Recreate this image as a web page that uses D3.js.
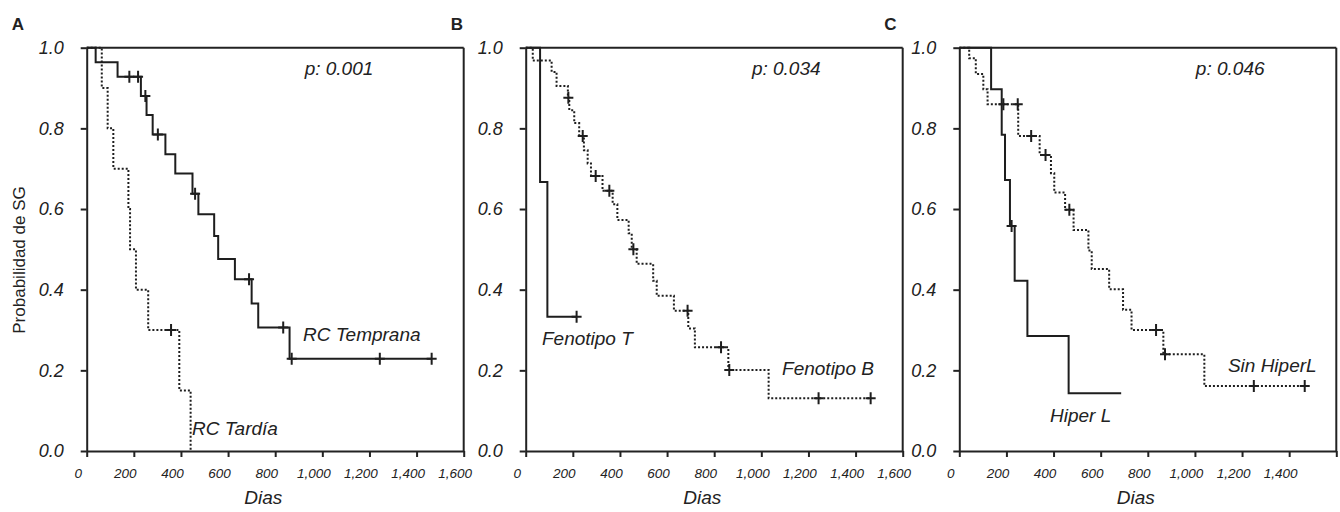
<!DOCTYPE html>
<html>
<head>
<meta charset="utf-8">
<title>Curvas de supervivencia</title>
<script src="https://cdn.jsdelivr.net/npm/d3@7"></script>
<style>
	body { margin: 0; background: #fff; }
	svg { display: block; font-family: "Liberation Sans", Arial, sans-serif; }
	.tick line, .domain { stroke: #222; stroke-width: 2; }
	.xax text { font-style: italic; font-size: 13.5px; fill: #222; }
	.yax text { font-style: italic; font-size: 18px; fill: #222; }
	.lbl { font-style: italic; font-size: 19px; fill: #222; }
</style>
</head>
<body>
<svg width="1340" height="512" id="chart"></svg>
<script>
// ---- data (days, survival probability) ----
var xTicks = [0, 200, 400, 600, 800, 1000, 1200, 1400, 1600]
var yTicks = [0, 0.2, 0.4, 0.6, 0.8, 1.0]

// A: RC Temprana / RC Tardía
var tempranaTimes = [0, 38, 131, 230, 254, 280, 334, 376, 449, 474, 541, 558, 629, 700, 728, 861]
var tempranaSurv = [1, 0.964, 0.928, 0.880, 0.833, 0.785, 0.736, 0.688, 0.638, 0.587, 0.533, 0.476, 0.426, 0.366, 0.306, 0.229]
var tempranaCensor = [181, 218, 249, 302, 460, 689, 834, 870, 1244, 1464]
var tempranaEnd = 1464

var tardiaTimes = [0, 64, 89, 113, 177, 184, 209, 261, 393, 441]
var tardiaSurv = [1, 0.90, 0.80, 0.70, 0.60, 0.50, 0.40, 0.30, 0.15, 0]
var tardiaCensor = [358]
var tardiaEnd = 441

// B: Fenotipo T / Fenotipo B
var fenoTTimes = [0, 61, 92]
var fenoTSurv = [1, 0.667, 0.333]
var fenoTCensor = [216]
var fenoTEnd = 216

var fenoBTimes = [0, 30, 110, 131, 179, 185, 206, 227, 247, 263, 277, 326, 369, 389, 437, 450, 471, 541, 556, 629, 690, 718, 860, 1031]
var fenoBSurv = [1, 0.968, 0.940, 0.905, 0.876, 0.845, 0.813, 0.781, 0.746, 0.713, 0.682, 0.645, 0.612, 0.573, 0.540, 0.500, 0.464, 0.422, 0.385, 0.348, 0.304, 0.257, 0.201, 0.131]
var fenoBCensor = [181, 242, 297, 355, 457, 687, 829, 864, 1243, 1464]
var fenoBEnd = 1464

// C: Hiper L / Sin HiperL
var hiperTimes = [0, 135, 180, 194, 215, 235, 289, 464]
var hiperSurv = [1, 0.897, 0.784, 0.672, 0.558, 0.422, 0.285, 0.143]
var hiperCensor = [222]
var hiperEnd = 687

var sinHiperTimes = [0, 42, 70, 102, 120, 250, 341, 389, 403, 449, 485, 548, 562, 636, 695, 731, 866, 1040]
var sinHiperSurv = [1, 0.974, 0.935, 0.897, 0.860, 0.781, 0.734, 0.689, 0.641, 0.598, 0.548, 0.497, 0.451, 0.401, 0.350, 0.300, 0.240, 0.161]
var sinHiperCensor = [187, 248, 305, 366, 467, 835, 873, 1250, 1466]
var sinHiperEnd = 1466

var panelLetters = ['A', 'B', 'C']
var pValues = ['p: 0.001', 'p: 0.034', 'p: 0.046']

// build the panels from the arrays above
function makeSeries(times, surv, censor, end, dotted, label, lx, ly) {
	return {times: times, surv: surv, censor: censor, end: end, dotted: dotted, label: label, lx: lx, ly: ly}
}

var panels = [
	{letter: panelLetters[0], p: pValues[0], px: 925, left: 86.7, xLabels1600: true, series: [
		makeSeries(tempranaTimes, tempranaSurv, tempranaCensor, tempranaEnd, false, 'RC Temprana', 918, 0.288),
		makeSeries(tardiaTimes, tardiaSurv, tardiaCensor, tardiaEnd, true, 'RC Tardía', 447, 0.057)
	]},
	{letter: panelLetters[1], p: pValues[1], px: 960, left: 525.7, xLabels1600: true, series: [
		makeSeries(fenoTTimes, fenoTSurv, fenoTCensor, fenoTEnd, false, 'Fenotipo T', 69, 0.280),
		makeSeries(fenoBTimes, fenoBSurv, fenoBCensor, fenoBEnd, true, 'Fenotipo B', 1088, 0.206)
	]},
	{letter: panelLetters[2], p: pValues[2], px: 1004, left: 959.3, xLabels1600: false, series: [
		makeSeries(hiperTimes, hiperSurv, hiperCensor, hiperEnd, false, 'Hiper L', 385, 0.089),
		makeSeries(sinHiperTimes, sinHiperSurv, sinHiperCensor, sinHiperEnd, true, 'Sin HiperL', 1140, 0.213)
	]}
]

var svg = d3.select('#chart')
var plotW = 377
var top_y = 47.7, bottom_y = 451

var yScale = d3.scaleLinear().domain([0, 1]).range([bottom_y, top_y])

function survAt(s, t) {
	var v = s.surv[0]
	for (var i = 0; i < s.times.length; i++) {
		if (s.times[i] <= t) v = s.surv[i]
	}
	return v
}

panels.forEach(function(p) {
	var xScale = d3.scaleLinear().domain([0, 1600]).range([p.left, p.left + plotW])
	var g = svg.append('g')

	// frame: top and right
	g.append('line')
		.attr('x1', xScale(0)).attr('x2', xScale(1600))
		.attr('y1', yScale(1)).attr('y2', yScale(1))
		.attr('stroke', '#222').attr('stroke-width', 2)
	g.append('line')
		.attr('x1', xScale(1600)).attr('x2', xScale(1600))
		.attr('y1', yScale(1)).attr('y2', yScale(0))
		.attr('stroke', '#222').attr('stroke-width', 2)

	// axes
	g.append('g')
		.attr('class', 'yax')
		.attr('transform', 'translate(' + xScale(0) + ',0)')
		.call(d3.axisLeft(yScale).tickValues(yTicks).tickSize(6).tickSizeOuter(0).tickPadding(17).tickFormat(d3.format('.1f')))

	var xa = g.append('g')
		.attr('class', 'xax')
		.attr('transform', 'translate(0,' + yScale(0) + ')')
		.call(d3.axisBottom(xScale).tickValues(xTicks).tickSize(6).tickSizeOuter(0).tickPadding(11)
			.tickFormat(function(d) { return (d == 1600 && !p.xLabels1600) ? '' : d3.format(',')(d) }))
	xa.selectAll('text').attr('dx', -9)

	// step curves
	var line = d3.line()
		.x(function(d) { return xScale(d[0]) })
		.y(function(d) { return yScale(d[1]) })
		.curve(d3.curveStepAfter)

	p.series.forEach(function(s) {
		var pts = s.times.map(function(t, i) { return [t, s.surv[i]] })
		pts.push([s.end, s.surv[s.surv.length - 1]])

		g.append('path')
			.attr('d', line(pts))
			.attr('fill', 'none')
			.attr('stroke', '#1e1e1e')
			.attr('stroke-width', 2)
			.attr('stroke-dasharray', s.dotted ? '2,2' : null)

		// censor marks
		g.selectAll(null)
			.data(s.censor)
			.enter()
			.append('path')
			.attr('d', function(t) {
				var cx = xScale(t), cy = yScale(survAt(s, t))
				return 'M' + (cx - 5) + ',' + cy + 'H' + (cx + 5) + 'M' + cx + ',' + (cy - 6) + 'V' + (cy + 6)
			})
			.attr('stroke', '#1e1e1e')
			.attr('stroke-width', 2)

		g.append('text')
			.attr('class', 'lbl')
			.attr('x', xScale(s.lx))
			.attr('y', yScale(s.ly))
			.attr('dy', '0.35em')
			.text(s.label)
	})

	g.append('text')
		.attr('class', 'lbl')
		.attr('x', xScale(p.px))
		.attr('y', 68)
		.attr('dy', '0.35em')
		.text(p.p)

	g.append('text')
		.attr('x', p.left - 75)
		.attr('y', 30)
		.attr('font-weight', 'bold')
		.attr('font-size', 17)
		.attr('fill', '#222')
		.text(p.letter)

	g.append('text')
		.attr('class', 'lbl')
		.attr('x', xScale(800) - 12)
		.attr('y', 504)
		.attr('text-anchor', 'middle')
		.text('Dias')
})

svg.append('text')
	.attr('transform', 'translate(25,260) rotate(-90)')
	.attr('text-anchor', 'middle')
	.attr('font-size', 17)
	.attr('fill', '#222')
	.text('Probabilidad de SG')
</script>
</body>
</html>
